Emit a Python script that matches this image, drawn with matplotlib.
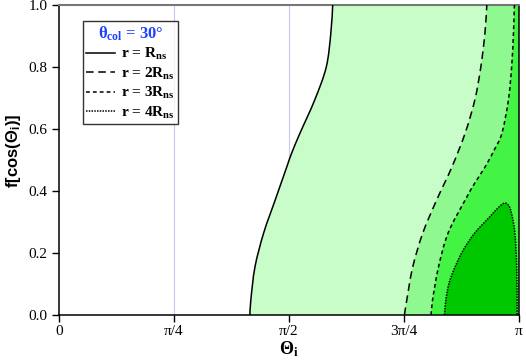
import numpy as np
import matplotlib
matplotlib.use("Agg")
import matplotlib.pyplot as plt
from matplotlib.lines import Line2D
from matplotlib.path import Path
from matplotlib.patches import PathPatch

plt.rcParams["font.family"] = ["Liberation Serif", "DejaVu Serif"]
plt.rcParams["mathtext.fontset"] = "custom"
plt.rcParams["mathtext.rm"] = "Liberation Serif:bold"
plt.rcParams["mathtext.it"] = "Liberation Serif:bold"
plt.rcParams["mathtext.bf"] = "Liberation Serif:bold"
plt.rcParams["mathtext.sf"] = "Liberation Sans:bold"

# boundaries, Theta_i given as fraction of pi, f = f[cos(Theta_i)]
f_r1 = [0.0, 0.048, 0.155, 0.265, 0.371, 0.477, 0.523, 0.587, 0.694, 0.80, 0.91, 1.0]
t_r1 = [0.415, 0.417, 0.426, 0.445, 0.470, 0.495, 0.506, 0.524, 0.556, 0.581, 0.591, 0.595]

f_r2 = [0.0, 0.048, 0.155, 0.265, 0.371, 0.477, 0.587, 0.694, 0.80, 0.91, 1.0]
t_r2 = [0.751, 0.756, 0.769, 0.791, 0.821, 0.854, 0.883, 0.904, 0.917, 0.926, 0.930]

f_r3 = [0.0, 0.048, 0.155, 0.265, 0.371, 0.426, 0.477, 0.532, 0.587, 0.694, 0.80, 0.91, 1.0]
t_r3 = [0.809, 0.812, 0.825, 0.846, 0.883, 0.904, 0.926, 0.946, 0.963, 0.977, 0.984, 0.988, 0.990]

# r = 4 R_ns closed contour (left branch up, then right branch down)
f_r4 = [0.0, 0.048, 0.103, 0.155, 0.21, 0.265, 0.316, 0.345, 0.361, 0.352, 0.326, 0.265, 0.155, 0.0]
t_r4 = [0.838, 0.841, 0.848, 0.861, 0.879, 0.904, 0.936, 0.954, 0.968, 0.978, 0.984, 0.991, 0.995, 0.996]

colors = ["#c8fcc8", "#90f890", "#44f444", "#00c800"]
styles = ["-", (0, (5, 3)), (0, (2.5, 2)), (0, (1, 0.8))]
labels = ["r = R$_{ns}$", "r = 2R$_{ns}$", "r = 3R$_{ns}$", "r = 4R$_{ns}$"]
title = "θ$_{col}$ = 30°"


def smooth_path(x, y, tail=None):
    # Bezier path through the read points (Catmull-Rom tangents)
    p = np.column_stack([x, y])
    verts = [p[0]]
    codes = [Path.MOVETO]
    n = len(p)
    for i in range(n - 1):
        p0 = p[max(i - 1, 0)]
        p3 = p[min(i + 2, n - 1)]
        c1 = p[i] + (p[i + 1] - p0) / 6.0
        c2 = p[i + 1] - (p3 - p[i]) / 6.0
        verts += [c1, c2, p[i + 1]]
        codes += [Path.CURVE4] * 3
    if tail is not None:
        for v in tail:
            verts.append(v)
            codes.append(Path.LINETO)
        verts.append(p[0])
        codes.append(Path.CLOSEPOLY)
    return Path(verts, codes)


fig = plt.figure(figsize=(5.26, 3.61), dpi=100)
ax = fig.add_axes([59 / 526, 1 - 315 / 361, 460 / 526, 310 / 361])

for xv in [np.pi / 4, np.pi / 2, 3 * np.pi / 4]:
    ax.axvline(xv, color="#c8c8f0", lw=0.8, zorder=0)

curves = [(t_r1, f_r1), (t_r2, f_r2), (t_r3, f_r3)]
for (t, f), c in zip(curves, colors[:3]):
    x = np.array(t) * np.pi
    ax.add_patch(PathPatch(smooth_path(x, f, tail=[(np.pi, 1.0), (np.pi, 0.0)]),
                           facecolor=c, lw=0, zorder=1))
x4 = np.array(t_r4) * np.pi
ax.add_patch(PathPatch(smooth_path(x4, f_r4, tail=[]), facecolor=colors[3], lw=0, zorder=1))

for (t, f), ls in zip(curves + [(t_r4, f_r4)], styles):
    ax.add_patch(PathPatch(smooth_path(np.array(t) * np.pi, f), facecolor="none",
                           edgecolor="black", ls=ls, lw=1.1, zorder=3))

ax.set_xlim(0, np.pi)
ax.set_ylim(0, 1)
ax.set_xticks([0, np.pi / 4, np.pi / 2, 3 * np.pi / 4, np.pi])
ax.set_xticklabels(["0", "π/4", "π/2", "3π/4", "π"])
ax.set_yticks([0, 0.2, 0.4, 0.6, 0.8, 1.0])
ax.set_yticklabels(["0.0", "0.2", "0.4", "0.6", "0.8", "1.0"])
ax.tick_params(direction="out", length=5, width=1, labelsize=11)
ax.tick_params(axis="x", pad=2)
ax.spines["top"].set_color("#777777")
ax.spines["top"].set_linewidth(1.5)
for s in ["left", "bottom", "right"]:
    ax.spines[s].set_linewidth(1.1)

ax.set_xlabel("Θ$_i$", fontsize=13, fontweight="bold", labelpad=1)
ax.set_ylabel(r"$\mathsf{f[cos(\Theta_i)]}$", fontsize=12)
ax.yaxis.set_label_coords(-0.078, 0.53)

handles = [Line2D([], [], color="black", ls=ls, lw=1.1) for ls in styles]
leg = ax.legend(handles, labels, loc="upper left", bbox_to_anchor=(0.052, 0.947),
                prop={"weight": "bold", "size": 11}, frameon=True, fancybox=False,
                handlelength=1.9, handletextpad=0.4, borderpad=0.2,
                labelspacing=0.22, borderaxespad=0,
                title=title, title_fontproperties={"weight": "bold", "size": 12})
leg.get_title().set_color("#2040ff")
leg.get_frame().set_edgecolor("black")
leg.get_frame().set_linewidth(1.0)
leg.set_zorder(5)

fig.savefig("out.png", dpi=100)
